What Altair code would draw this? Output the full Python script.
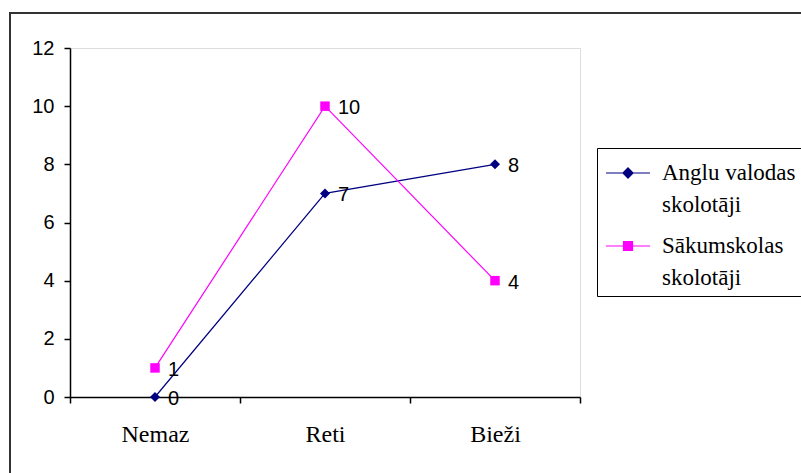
import altair as alt
import pandas as pd

# Survey answers: how often each teacher group does it
categories = ["Nemaz", "Reti", "Bieži"]
series_names = ["Anglu valodas|skolotāji", "Sākumskolas|skolotāji"]
english_teachers = [0, 7, 8]
primary_teachers = [1, 10, 4]
series_colors = ["#000080", "#FF00FF"]
marker_shapes = ["diamond", "square"]
y_ticks = [0, 2, 4, 6, 8, 10, 12]

rows = []
for name, values in zip(series_names, [english_teachers, primary_teachers]):
    for cat, v in zip(categories, values):
        rows.append({"series": name, "category": cat, "value": v})
df = pd.DataFrame(rows)

W, H = 510, 349

x_enc = alt.X(
    "category:N",
    sort=categories,
    scale=alt.Scale(paddingInner=0, paddingOuter=0),
    axis=alt.Axis(
        title=None, labelAngle=0, tickBand="extent", tickSize=6,
        labelFont="Liberation Serif", labelFontSize=24, labelColor="#000",
        labelPadding=19, domainColor="#000", tickColor="#000",
        domainWidth=1.5, tickWidth=1.5, labelLineHeight=24,
    ),
)
y_enc = alt.Y(
    "value:Q",
    scale=alt.Scale(domain=[0, 12], nice=False),
    axis=alt.Axis(
        title=None, values=y_ticks, tickSize=6, grid=False,
        labelFont="Liberation Sans", labelFontSize=20, labelColor="#000",
        labelPadding=10, domainColor="#000", tickColor="#000",
        domainWidth=1.5, tickWidth=1.5, labelLineHeight=20,
    ),
)
color_scale = alt.Scale(domain=series_names, range=series_colors)

# legend symbols: a short line through the marker (unit = 18px at size 1296)
legend_paths = [
    "M-1.22,0H1.22M0,-0.28L0.28,0L0,0.28L-0.28,0Z",
    "M-1.22,0H1.22M-0.25,-0.25H0.25V0.25H-0.25Z",
]
legend = alt.Legend(
    title=None, orient="none", legendX=527, legendY=100,
    symbolSize=1296, symbolStrokeWidth=1.2, symbolOpacity=1, symbolOffset=6,
    labelFont="Liberation Serif", labelFontSize=23, labelColor="#000",
    labelExpr="split(datum.label, '|')", labelOffset=15,
    labelBaseline="middle", labelLimit=300,
    padding=6, strokeColor="#000", fillColor="#fff", rowPadding=10,
)

lines = alt.Chart(df).mark_line(strokeWidth=1.2).encode(
    x=x_enc, y=y_enc,
    color=alt.Color("series:N", scale=color_scale, legend=legend),
    detail="series:N",
)

point_layers = []
for name, color, shape, size in zip(series_names, series_colors, marker_shapes, [100, 90]):
    point_layers.append(
        alt.Chart(df).transform_filter(alt.datum.series == name)
        .mark_point(filled=True, shape=shape, size=size, color=color, opacity=1)
        .encode(x=x_enc, y=y_enc)
    )

labels = alt.Chart(df).mark_text(
    align="left", baseline="middle", dx=13, dy=2,
    font="Liberation Sans", fontSize=20, color="#000",
).encode(x=x_enc, y=y_enc, text="value:Q")

legend_layer = alt.Chart(df).mark_point(
    filled=True, opacity=0, strokeWidth=1.2
).encode(
    x=x_enc, y=y_enc,
    color=alt.Color("series:N", scale=color_scale, legend=legend),
    shape=alt.Shape(
        "series:N",
        scale=alt.Scale(domain=series_names, range=legend_paths),
        legend=legend,
    ),
)

frame = alt.Chart(alt.Data(values=[{}])).mark_rect(
    fill=None, stroke="#333", strokeWidth=2
).encode(
    x=alt.value(-60), x2=alt.value(800), y=alt.value(-35), y2=alt.value(460)
)

chart = alt.layer(
    frame, lines, *point_layers, labels, legend_layer
).properties(
    width=W, height=H,
    autosize=alt.AutoSizeParams(type="none"),
    padding={"left": 70, "top": 48, "right": 801 - 70 - W, "bottom": 473 - 48 - H},
    background="#fff",
).configure_view(stroke=None).configure(
    style={"guide-label": {"lineHeight": 32}}
)

chart.save("out.html", embed_options={"renderer": "svg", "actions": False})
